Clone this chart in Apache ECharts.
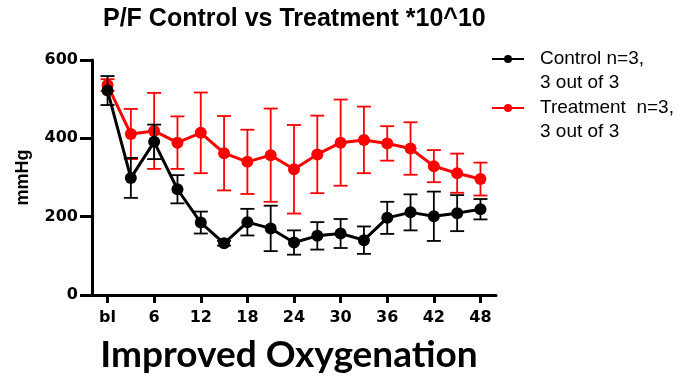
<!DOCTYPE html>
<html>
<head>
<meta charset="utf-8">
<script src="https://cdn.jsdelivr.net/npm/echarts@6/dist/echarts.min.js"></script>
<style>
  html, body { margin: 0; padding: 0; background: #fff; }
  #main { width: 690px; height: 379px; }
</style>
</head>
<body>
<div id="main"></div>
<script>
// hours after baseline (0 = bl)
var hours = [0, 3, 6, 9, 12, 15, 18, 21, 24, 27, 30, 33, 36, 39, 42, 45, 48];
var tickHours = [0, 6, 12, 18, 24, 30, 36, 42, 48];
var tickNames = ['bl', '6', '12', '18', '24', '30', '36', '42', '48'];

var controlName = 'Control n=3,\n3 out of 3';
var treatName = 'Treatment  n=3,\n3 out of 3';

// mean and error (+/-) in mmHg
var controlMean = [522, 299, 391, 270, 185, 132, 186, 170, 134, 151, 157, 140, 197, 211, 201, 209, 219];
var controlErr  = [37, 51, 44, 36, 28, 6, 34, 58, 31, 35, 37, 35, 41, 46, 63, 46, 26];
var treatMean = [536, 411, 419, 389, 414, 362, 340, 357, 321, 359, 389, 396, 387, 374, 329, 311, 296];
var treatErr  = [15, 64, 97, 67, 103, 95, 82, 119, 113, 99, 110, 85, 44, 67, 41, 50, 42];

function pairs(ys) {
    var out = [];
    for (var i = 0; i < hours.length; i++) {
        out.push([hours[i], ys[i]]);
    }
    return out;
}

function errData(mean, err) {
    var out = [];
    for (var i = 0; i < hours.length; i++) {
        out.push([hours[i], mean[i] - err[i], mean[i] + err[i]]);
    }
    return out;
}

function errorBars(name, mean, err, color, z) {
    return {
        name: name,
        type: 'custom',
        z: z,
        silent: true,
        data: errData(mean, err),
        encode: { x: 0, y: [1, 2] },
        renderItem: function (params, api) {
            var lo = api.coord([api.value(0), api.value(1)]);
            var hi = api.coord([api.value(0), api.value(2)]);
            var w = 7;
            var st = { stroke: color, lineWidth: 1.8 };
            return {
                type: 'group',
                children: [
                    { type: 'line', shape: { x1: lo[0], y1: lo[1], x2: hi[0], y2: hi[1] }, style: st },
                    { type: 'line', shape: { x1: hi[0] - w, y1: hi[1], x2: hi[0] + w, y2: hi[1] }, style: st },
                    { type: 'line', shape: { x1: lo[0] - w, y1: lo[1], x2: lo[0] + w, y2: lo[1] }, style: st }
                ]
            };
        }
    };
}

var myChart = echarts.init(document.getElementById('main'));

var axisFont = 'DejaVu Sans';

var option = {
    animation: false,
    title: {
        text: 'P/F Control vs Treatment *10^10',
        left: 98,
        top: 2,
        textStyle: {
            fontFamily: 'Liberation Sans',
            fontWeight: 'bold',
            fontSize: 25,
            color: '#000'
        }
    },
    legend: {
        data: [controlName, treatName],
        orient: 'vertical',
        left: 486,
        top: 18,
        itemWidth: 32,
        itemHeight: 10,
        itemGap: -23,
        // blank first line so the icon sits on the first text line
        formatter: function (name) {
            return '\n' + name;
        },
        textStyle: {
            fontFamily: 'Liberation Sans',
            fontSize: 19,
            color: '#000',
            lineHeight: 24,
            padding: [0, 0, 0, 11]
        }
    },
    grid: {
        left: 92,
        right: 194,
        top: 60,
        bottom: 84,
        outerBoundsMode: 'none'
    },
    xAxis: {
        type: 'value',
        min: -2,
        max: 50,
        name: 'Improved Oxygenation',
        nameLocation: 'middle',
        nameGap: 42,
        nameMoveOverlap: false,
        nameTextStyle: {
            fontFamily: 'Lato',
            fontWeight: 'bold',
            fontSize: 37,
            color: '#000',
            padding: [0, 10, 0, 0]
        },
        axisLine: { onZero: false, lineStyle: { color: '#000', width: 3 } },
        axisTick: {
            customValues: tickHours,
            length: 8,
            lineStyle: { color: '#000', width: 3 }
        },
        axisLabel: {
            customValues: tickHours,
            margin: 15,
            fontFamily: axisFont,
            fontWeight: 'bold',
            fontSize: 16,
            color: '#000',
            formatter: function (v) {
                var i = tickHours.indexOf(v);
                return i >= 0 ? tickNames[i] : '';
            }
        },
        splitLine: { show: false }
    },
    yAxis: {
        type: 'value',
        min: 0,
        max: 600,
        interval: 200,
        name: 'mmHg',
        nameLocation: 'middle',
        nameGap: 60,
        nameMoveOverlap: false,
        nameTextStyle: {
            fontFamily: 'Liberation Sans',
            fontWeight: 'bold',
            fontSize: 18,
            color: '#000'
        },
        axisLine: { show: true, onZero: false, lineStyle: { color: '#000', width: 3 } },
        axisTick: { show: true, length: 12, lineStyle: { color: '#000', width: 3 } },
        axisLabel: {
            margin: 14,
            fontFamily: axisFont,
            fontWeight: 'bold',
            fontSize: 16,
            color: '#000'
        },
        splitLine: { show: false }
    },
    series: [
        errorBars('treatErr', treatMean, treatErr, '#ff0000', 2),
        {
            name: treatName,
            type: 'line',
            z: 3,
            data: pairs(treatMean),
            symbol: 'circle',
            symbolSize: 12,
            color: '#ff0000',
            lineStyle: { color: '#ff0000', width: 3 },
            itemStyle: { color: '#ff0000' }
        },
        errorBars('controlErr', controlMean, controlErr, '#000000', 4),
        {
            name: controlName,
            type: 'line',
            z: 5,
            data: pairs(controlMean),
            symbol: 'circle',
            symbolSize: 12,
            color: '#000000',
            lineStyle: { color: '#000000', width: 3 },
            itemStyle: { color: '#000000' }
        }
    ]
};

myChart.setOption(option);
</script>
</body>
</html>
